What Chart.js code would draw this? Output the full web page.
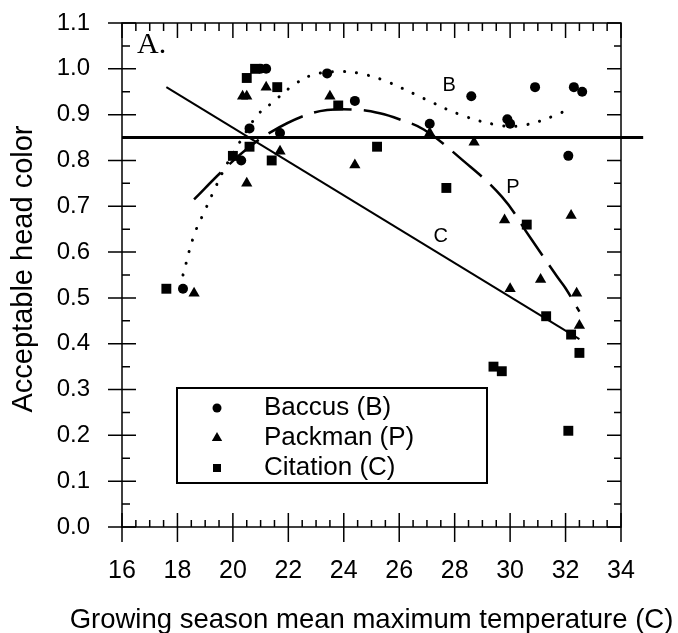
<!DOCTYPE html>
<html>
<head>
<meta charset="utf-8">
<title>Acceptable head color vs growing season temperature</title>
<script src="https://cdn.jsdelivr.net/npm/chart.js@4.4.1/dist/chart.umd.min.js"></script>
<style>
  html, body { margin: 0; padding: 0; background: #fff; }
  #chart { display: block; }
</style>
</head>
<body>
<canvas id="chart" width="678" height="633"></canvas>
<script>
const baccusX = [18.2, 20.3, 20.6, 21.0, 21.2, 21.7, 23.4, 24.4, 27.1, 28.6, 29.9, 30.0, 30.9, 32.1, 32.3, 32.6];
const baccusY = [0.52, 0.80, 0.87, 1.00, 1.00, 0.86, 0.99, 0.93, 0.88, 0.94, 0.89, 0.88, 0.96, 0.81, 0.96, 0.95];

const packmanX = [18.6, 20.35, 20.5, 20.5, 21.2, 21.7, 23.5, 24.4, 27.1, 28.7, 29.8, 30.0, 31.1, 32.2, 32.4, 32.5];
const packmanY = [0.51, 0.94, 0.94, 0.75, 0.96, 0.82, 0.94, 0.79, 0.86, 0.84, 0.67, 0.52, 0.54, 0.68, 0.51, 0.44];

const citationX = [17.6, 20.0, 20.5, 20.6, 20.8, 21.4, 21.6, 23.8, 25.2, 27.7, 29.4, 29.7, 30.6, 31.3, 32.1, 32.2, 32.5];
const citationY = [0.52, 0.81, 0.98, 0.83, 1.00, 0.80, 0.96, 0.92, 0.83, 0.74, 0.35, 0.34, 0.66, 0.46, 0.21, 0.42, 0.38];

// fitted curves
const fitBX = [18.2, 18.6, 19.0, 19.4, 19.8, 20.3, 20.9, 21.4, 22.2, 22.9, 23.9, 24.8, 25.6, 26.9, 28.2, 29.5, 30.4, 31.7, 32.2];
const fitBY = [0.55, 0.637, 0.692, 0.745, 0.794, 0.845, 0.90, 0.925, 0.965, 0.987, 0.994, 0.987, 0.971, 0.935, 0.90, 0.878, 0.876, 0.90, 0.918];

const fitPX = [18.6, 19.6, 20.5, 21.4, 22.5, 23.4, 24.4, 25.3, 26.0, 26.9, 28.2, 29.7, 30.7, 31.7, 32.0, 32.5];
const fitPY = [0.715, 0.776, 0.825, 0.863, 0.896, 0.91, 0.911, 0.903, 0.89, 0.867, 0.805, 0.721, 0.634, 0.546, 0.521, 0.47];

const fitCX = [17.6, 32.5];
const fitCY = [0.96, 0.41];

const thresholdX = [16, 34.8];
const thresholdY = [0.85, 0.85];

const xTicks = [16, 18, 20, 22, 24, 26, 28, 30, 32, 34];
const yTicks = [0, 0.1, 0.2, 0.3, 0.4, 0.5, 0.6, 0.7, 0.8, 0.9, 1.0, 1.1];

const seriesNames = ['Baccus (B)', 'Packman (P)', 'Citation (C)'];
const xTitle = 'Growing season mean maximum temperature (C)';
const yTitle = 'Acceptable head color';

function pairs(xs, ys) {
    return xs.map((x, i) => ({ x: x, y: ys[i] }));
}

const SANS = '"Liberation Sans", Arial, sans-serif';

// white page behind the canvas
const whiteBg = {
    id: 'whiteBg',
    beforeDraw(chart) {
        const ctx = chart.ctx;
        ctx.save();
        ctx.fillStyle = '#fff';
        ctx.fillRect(0, 0, chart.width, chart.height);
        ctx.restore();
    }
};

// box around the plot with inward / crossing tick marks
const frameTicks = {
    id: 'frameTicks',
    afterDraw(chart) {
        const { ctx, chartArea: a } = chart;
        const xs = chart.scales.x, ys = chart.scales.y;
        ctx.save();
        ctx.strokeStyle = '#000';
        ctx.lineWidth = 1.5;
        ctx.strokeRect(a.left, a.top, a.right - a.left, a.bottom - a.top);
        ctx.beginPath();
        for (let i = 0; i <= 22; i++) {
            const py = ys.getPixelForValue(i * 0.05);
            const major = i % 2 === 0;
            ctx.moveTo(a.left - (major ? 14 : 0), py);
            ctx.lineTo(a.left + (major ? 14 : 8), py);
            ctx.moveTo(a.right, py);
            ctx.lineTo(a.right - (major ? 14 : 7), py);
        }
        for (let i = 0; i <= 36; i++) {
            const px = xs.getPixelForValue(16 + i * 0.5);
            const major = i % 4 === 0;
            ctx.moveTo(px, a.bottom + (major ? 15 : 0));
            ctx.lineTo(px, a.bottom - (major ? 14 : 7));
            ctx.moveTo(px, a.top);
            ctx.lineTo(px, a.top + (major ? 15 : 8));
        }
        ctx.stroke();
        ctx.restore();
    }
};

function marker(ctx, style, x, y, r) {
    ctx.beginPath();
    if (style === 'circle') {
        ctx.arc(x, y, r, 0, Math.PI * 2);
    } else if (style === 'triangle') {
        ctx.moveTo(x, y - r);
        ctx.lineTo(x + r * 0.866, y + r * 0.5);
        ctx.lineTo(x - r * 0.866, y + r * 0.5);
        ctx.closePath();
    } else {
        ctx.rect(x - r * 0.8, y - r * 0.8, r * 1.6, r * 1.6);
    }
    ctx.fill();
}

// axis titles, legend box, curve letters and panel letter
const annotations = {
    id: 'annotations',
    afterDraw(chart) {
        const { ctx, chartArea: a } = chart;
        const xs = chart.scales.x, ys = chart.scales.y;
        ctx.save();
        ctx.fillStyle = '#000';
        ctx.strokeStyle = '#000';

        // axis titles (drawn here so they are not squeezed to the plot width)
        ctx.textAlign = 'center';
        ctx.textBaseline = 'alphabetic';
        ctx.font = '27.5px ' + SANS;
        ctx.fillText(xTitle, 371.5, 628);
        ctx.save();
        ctx.translate(32, 269);
        ctx.rotate(-Math.PI / 2);
        ctx.font = '29px ' + SANS;
        ctx.fillText(yTitle, 0, 0);
        ctx.restore();

        // legend
        ctx.lineWidth = 2;
        ctx.strokeRect(177, 388, 310, 95);
        ctx.font = '26px ' + SANS;
        ctx.textBaseline = 'middle';
        ctx.textAlign = 'left';
        const styles = ['circle', 'triangle', 'rect'];
        const sizes = [4.5, 6, 5];
        for (let i = 0; i < 3; i++) {
            const yy = 408 + i * 30;
            marker(ctx, styles[i], 217, yy, sizes[i]);
            ctx.fillText(chart.data.datasets[i].label, 264, yy);
        }

        // letters beside fitted curves
        ctx.font = '20px ' + SANS;
        ctx.textAlign = 'center';
        ctx.fillText('B', xs.getPixelForValue(27.8), ys.getPixelForValue(0.963));
        ctx.fillText('P', xs.getPixelForValue(30.1), ys.getPixelForValue(0.74));
        ctx.fillText('C', xs.getPixelForValue(27.5), ys.getPixelForValue(0.633));

        // panel letter
        ctx.font = '30px "Liberation Serif", "Times New Roman", serif';
        ctx.textAlign = 'left';
        ctx.textBaseline = 'alphabetic';
        ctx.fillText('A.', a.left + 15, a.top + 30);
        ctx.restore();
    }
};

const ctx = document.getElementById('chart').getContext('2d');
const chart = new Chart(ctx, {
    type: 'scatter',
    data: {
        datasets: [
            {
                label: seriesNames[0],
                data: pairs(baccusX, baccusY),
                pointStyle: 'circle',
                pointRadius: 5,
                backgroundColor: '#000',
                borderWidth: 0,
                order: 0
            },
            {
                label: seriesNames[1],
                data: pairs(packmanX, packmanY),
                pointStyle: 'triangle',
                pointRadius: 6.5,
                backgroundColor: '#000',
                borderWidth: 0,
                order: 0
            },
            {
                label: seriesNames[2],
                data: pairs(citationX, citationY),
                pointStyle: 'rect',
                pointRadius: 7,
                backgroundColor: '#000',
                borderWidth: 0,
                order: 0
            },
            {
                label: 'B fit',
                data: pairs(fitBX, fitBY),
                showLine: true,
                pointRadius: 0,
                borderColor: '#000',
                borderWidth: 3,
                borderDash: [0.1, 12],
                borderCapStyle: 'round',
                tension: 0.4,
                order: 1
            },
            {
                label: 'P fit',
                data: pairs(fitPX, fitPY),
                showLine: true,
                pointRadius: 0,
                borderColor: '#000',
                borderWidth: 2.5,
                borderDash: [38, 12],
                tension: 0.4,
                order: 1
            },
            {
                label: 'C fit',
                data: pairs(fitCX, fitCY),
                showLine: true,
                pointRadius: 0,
                borderColor: '#000',
                borderWidth: 2,
                order: 1
            },
            {
                label: 'threshold',
                data: pairs(thresholdX, thresholdY),
                showLine: true,
                pointRadius: 0,
                borderColor: '#000',
                borderWidth: 3,
                clip: false,
                order: 1
            }
        ]
    },
    options: {
        responsive: false,
        animation: false,
        layout: { padding: { left: 0, top: 23, right: 57, bottom: 0 } },
        plugins: {
            legend: { display: false },
            tooltip: { enabled: false }
        },
        scales: {
            x: {
                type: 'linear',
                min: 16,
                max: 34,
                afterFit: s => { s.height = 106; s.paddingLeft = 0; s.paddingRight = 0; },
                afterBuildTicks: s => { s.ticks = xTicks.map(v => ({ value: v })); },
                grid: { display: false, drawTicks: false },
                border: { display: false },
                ticks: {
                    color: '#000',
                    padding: 29,
                    maxRotation: 0,
                    font: { family: SANS, size: 25 }
                }
            },
            y: {
                type: 'linear',
                min: 0,
                max: 1.1,
                afterFit: s => { s.width = 122; s.paddingTop = 0; s.paddingBottom = 0; },
                afterBuildTicks: s => { s.ticks = yTicks.map(v => ({ value: v })); },
                grid: { display: false, drawTicks: false },
                border: { display: false },
                ticks: {
                    color: '#000',
                    padding: 32,
                    callback: v => v.toFixed(1),
                    font: { family: SANS, size: 24 }
                }
            }
        }
    },
    plugins: [whiteBg, frameTicks, annotations]
});
</script>
</body>
</html>
